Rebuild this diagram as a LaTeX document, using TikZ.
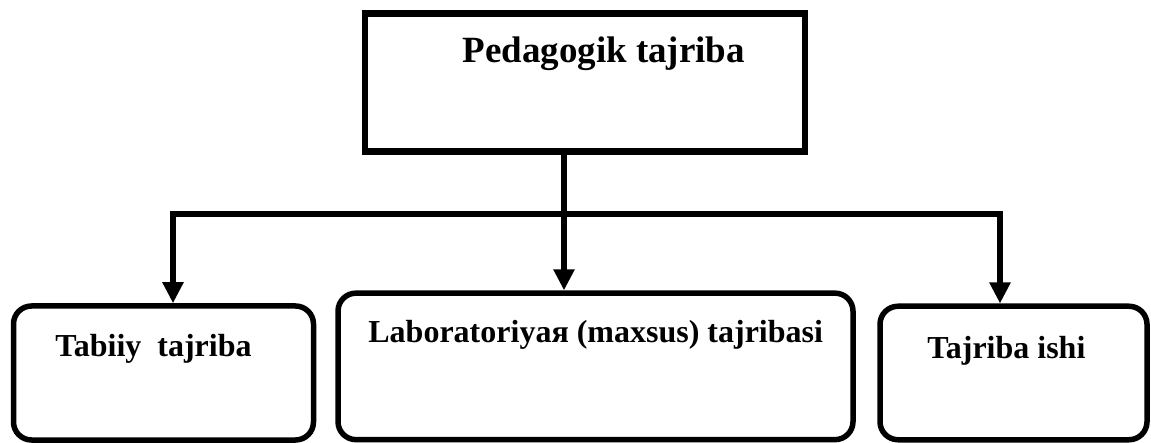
\documentclass[tikz,border=0pt]{standalone}
\usepackage{fontspec}
\setmainfont{Liberation Serif}
\usetikzlibrary{arrows.meta,positioning}

\begin{document}
\begin{tikzpicture}[x=0.5pt,y=-0.5pt,
  topbox/.style={draw,line width=3.25pt,minimum width=220pt,minimum height=69pt,inner sep=0pt},
  subbox/.style={draw,line width=2.75pt,rounded corners=9pt,inner sep=0pt},
  caption/.style={anchor=base west,inner sep=0pt,font=\bfseries\fontsize{16}{18}\selectfont},
  conn/.style={line width=2.75pt,{Triangle[width=10pt,length=10.5pt]}-{Triangle[width=10pt,length=10.5pt]}},
  down/.style={line width=2.75pt,-{Triangle[width=10pt,length=10.5pt]}}]
 \useasboundingbox (0,0) rectangle (1151,443);
 % boxes
 \node[topbox] (ped) at (585,82.5) {};
 \node[subbox,minimum width=150pt,minimum height=67pt] (tab) at (163.5,373) {};
 \node[subbox,minimum width=257.5pt,minimum height=73.25pt] (lab) at (595.5,366.4) {};
 \node[subbox,minimum width=133.5pt,minimum height=66.75pt] (ish) at (1013.5,373) {};
 % texts
 \node[caption,font=\bfseries\fontsize{18.5}{20}\selectfont] (ped_t) at (462,63) {Pedagogik tajriba};
 \node[caption] (tab_t) at (55,357) {Tabiiy\ \ tajriba};
 \node[caption] (lab_t) at (368,343) {Laboratoriyaя (maxsus) tajribasi};
 \node[caption] (ish_t) at (927,358) {Tajriba ishi};
 % connectors
 \coordinate (hub) at (564,214);
 \coordinate (left) at (173,214);
 \coordinate (right) at (1000,214);
 \draw[down] (ped.south -| hub) -- (lab.north -| hub);
 \draw[conn] (tab.north -| left) -- (left) -- (right) -- (ish.north -| right);
\end{tikzpicture}
\end{document}
